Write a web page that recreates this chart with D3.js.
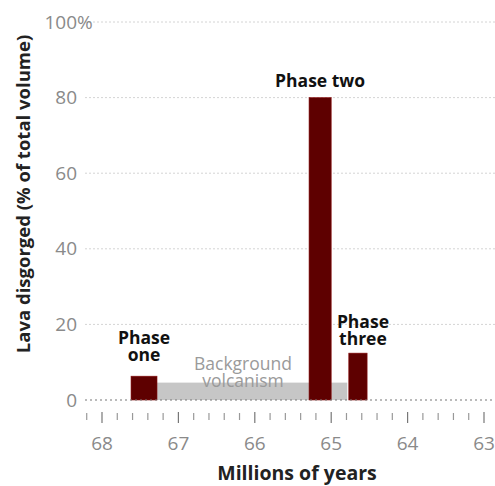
<!DOCTYPE html>
<html><head><meta charset="utf-8">
<script src="https://cdn.jsdelivr.net/npm/d3@7"></script>
<style>body{margin:0;background:#fff}</style>
</head><body>
<svg id="c" width="495" height="486"></svg>
<script>
const phases = ["Phase one","Phase two","Phase three"];
const phaseStart = [67.62, 65.29, 64.77];
const phaseEnd = [67.28, 65.0, 64.53];
const phaseValue = [6.3, 80, 12.4];
const background = {start: 67.28, end: 64.79, value: 4.6};
const yTicks = [0, 20, 40, 60, 80, 100];
const xMajor = [68, 67, 66, 65, 64, 63];

const svg = d3.select("#c");
const x = d3.scaleLinear().domain([68, 63]).range([102, 484]);
const y = d3.scaleLinear().domain([0, 100]).range([400, 22]);
const font = "'Open Sans', sans-serif";

// gridlines
svg.append("g").selectAll("line").data(yTicks.filter(d => d > 0)).join("line")
  .attr("x1", 85).attr("x2", 495).attr("y1", d => y(d)).attr("y2", d => y(d))
  .attr("stroke", "#d4d4d4").attr("stroke-width", 1).attr("stroke-dasharray", "2,2");

// y tick labels
const yl = svg.append("g").attr("font-family", font).attr("font-size", 19).attr("fill", "#8a8a8a");
yl.selectAll("text").data(yTicks).join("text")
  .attr("x", 77).attr("y", d => y(d)).attr("dy", "0.35em").attr("text-anchor", "end")
  .text(d => d);
yl.append("text").attr("x", 77).attr("y", y(100)).attr("dy", "0.35em").text("%");

// background volcanism
svg.append("rect").attr("x", x(background.start)).attr("width", x(background.end) - x(background.start))
  .attr("y", y(background.value)).attr("height", y(0) - y(background.value)).attr("fill", "#c6c6c6");

// bars
svg.append("g").selectAll("rect").data(phases).join("rect")
  .attr("x", (d, i) => x(phaseStart[i])).attr("width", (d, i) => x(phaseEnd[i]) - x(phaseStart[i]))
  .attr("y", (d, i) => y(phaseValue[i])).attr("height", (d, i) => y(0) - y(phaseValue[i]))
  .attr("fill", "#5e0000").attr("stroke", "#8a1010").attr("stroke-width", 0.6);

// baseline
svg.append("line").attr("x1", 85).attr("x2", 495).attr("y1", y(0)).attr("y2", y(0))
  .attr("stroke", "#777").attr("stroke-width", 1.2).attr("stroke-dasharray", "2,3");

// x axis ticks
const minor = d3.range(0, 29).map(i => +(68.2 - i * 0.2).toFixed(1)).filter(v => v >= 62.8);
svg.append("g").selectAll("line").data(minor).join("line")
  .attr("x1", d => x(d)).attr("x2", d => x(d))
  .attr("y1", d => Math.abs(d - Math.round(d)) < 0.01 ? 412 : 413)
  .attr("y2", d => Math.abs(d - Math.round(d)) < 0.01 ? 423 : 420)
  .attr("stroke", d => Math.abs(d - Math.round(d)) < 0.01 ? "#777" : "#999").attr("stroke-width", 1.2);

svg.append("g").attr("font-family", font).attr("font-size", 19).attr("fill", "#8a8a8a")
  .selectAll("text").data(xMajor).join("text")
  .attr("x", d => x(d)).attr("y", 450).attr("text-anchor", "middle").text(d => d);

// axis titles
svg.append("text").attr("transform", "translate(30,194) rotate(-90)").attr("text-anchor", "middle")
  .attr("font-family", font).attr("font-weight", "bold").attr("font-size", 18.5).attr("fill", "#222")
  .text("Lava disgorged (% of total volume)");
svg.append("text").attr("x", 297).attr("y", 480).attr("text-anchor", "middle")
  .attr("font-family", font).attr("font-weight", "bold").attr("font-size", 19.5).attr("fill", "#222")
  .text("Millions of years");

// annotations
const ann = svg.append("g").attr("font-family", font).attr("font-weight", "bold").attr("font-size", 17.5).attr("fill", "#111").attr("text-anchor", "middle");
const cx = i => (x(phaseStart[i]) + x(phaseEnd[i])) / 2;
function two(g, xp, y1, l1, l2) {
  const t = g.append("text").attr("x", xp).attr("y", y1);
  t.append("tspan").attr("x", xp).text(l1);
  t.append("tspan").attr("x", xp).attr("dy", 17).text(l2);
}
two(ann, cx(0), 344, "Phase", "one");
ann.append("text").attr("x", cx(1) + 0).attr("y", 87).text("Phase two");
two(ann, cx(2) + 5, 328, "Phase", "three");

const bg = svg.append("g").attr("font-family", font).attr("font-size", 17.5).attr("fill", "#9a9a9a").attr("text-anchor", "middle");
two(bg, 243, 370, "Background", "volcanism");
</script>
</body></html>
